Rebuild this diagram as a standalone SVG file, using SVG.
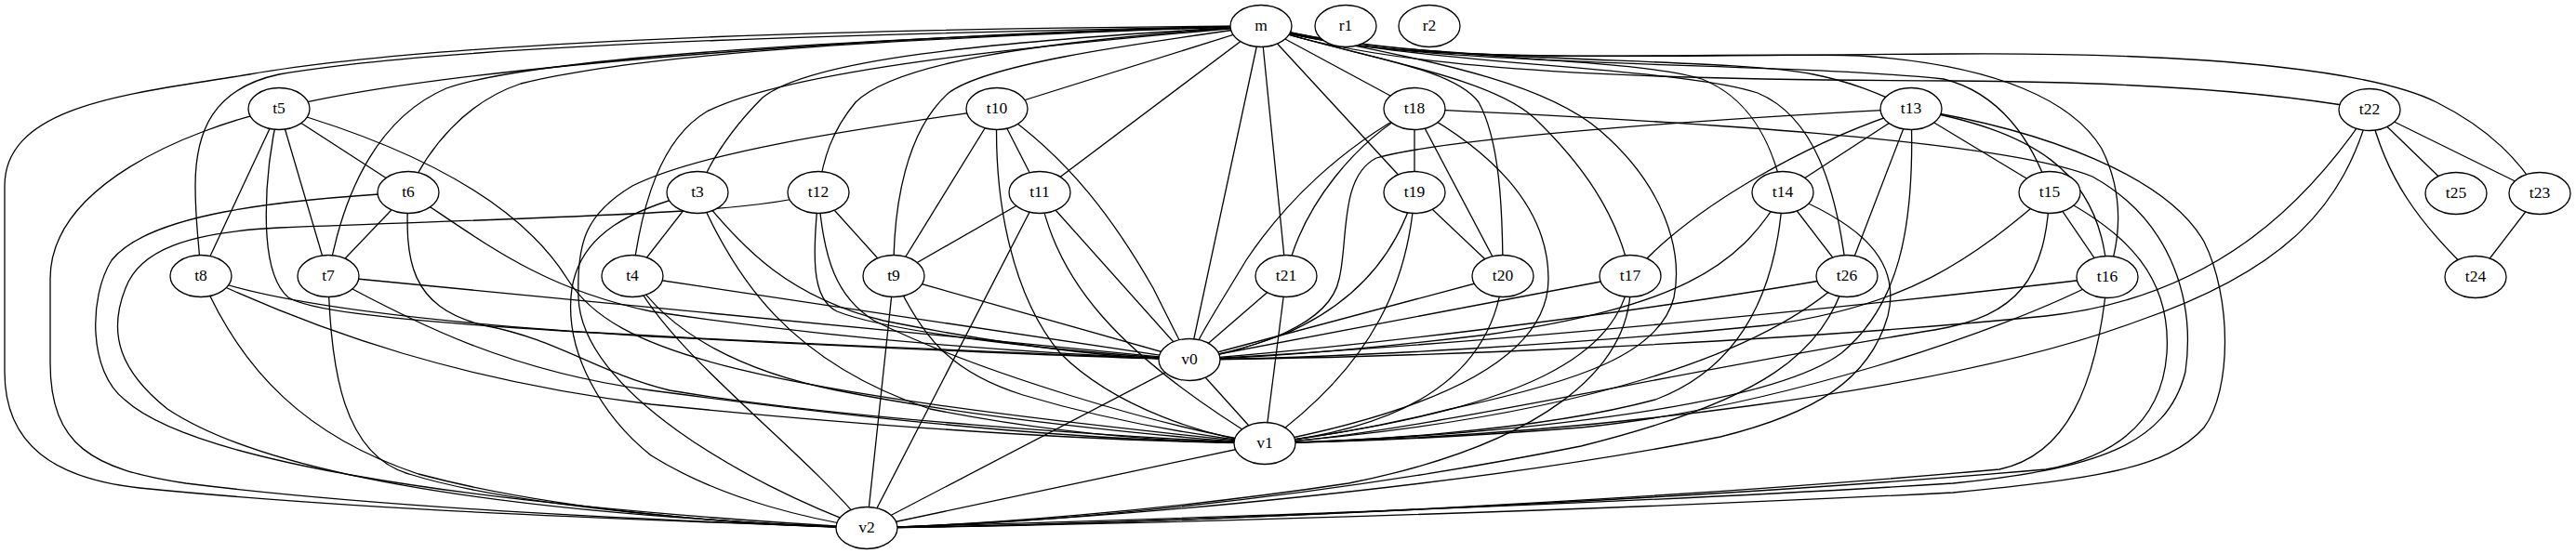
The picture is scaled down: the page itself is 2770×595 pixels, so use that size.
<svg xmlns="http://www.w3.org/2000/svg" width="2770" height="595" viewBox="0 0 2770 595">
<style>
.e{fill:none;stroke:#000;stroke-width:1.3}
.n ellipse{fill:#fff;stroke:#000;stroke-width:1.3}
.n text{font-family:"Liberation Serif","Times New Roman",serif;font-size:17.5px;text-anchor:middle;fill:#000}
</style>
<rect width="2770" height="595" fill="#fff"/>
<g id="edges" class="e">
<!-- m left fan -->
<path d="M1356,28 C1000,30 500,40 268,80 C150,100 5,110 5,200 L5,400 C5,480 60,515 150,525 C400,550 700,560 932,568"/>
<path d="M1356,28 C1000,35 500,45 300,80 C230,95 210,140 210,200 C210,240 214,260 216,297"/>
<path d="M1356,28 C1000,35 480,70 300,117"/>
<path d="M1356,28 C950,40 580,60 480,95 C410,125 370,200 353,297"/>
<path d="M1356,28 C1000,40 700,55 560,90 C500,110 460,160 439,207"/>
<path d="M1356,28 C1050,45 870,65 820,105 C790,135 765,170 750,207"/>
<path d="M1356,28 C1100,50 850,75 760,120 C710,150 690,220 680,297"/>
<path d="M1356,28 C1100,45 960,70 920,110 C895,140 885,170 880,207"/>
<path d="M1356,28 C1200,50 1060,70 1020,100 C975,140 960,220 961,297"/>
<path d="M1356,28 L1072,117"/>
<path d="M1356,28 L1118,207"/>
<path d="M1356,28 L1279,387"/>
<path d="M1356,28 L1383,297"/>
<path d="M1356,28 L1521,207"/>
<path d="M1356,28 L1521,117"/>
<!-- m right fan -->
<path d="M1356,28 C1450,60 1560,70 1590,110 C1612,150 1616,220 1616,297"/>
<path d="M1356,28 C1450,60 1600,80 1650,127 C1700,175 1740,230 1753,297"/>
<path d="M1356,28 C1500,60 1650,80 1720,140 C1790,200 1810,270 1800,320 C1785,380 1700,410 1560,440 C1480,460 1420,470 1360,477"/>
<path d="M1356,28 C1500,65 1750,60 1830,85 C1880,105 1905,150 1917,207"/>
<path d="M1356,28 C1500,70 1800,70 1890,100 C1950,125 1975,200 1986,297"/>
<path d="M1356,28 C1500,70 1850,60 1950,80 C1990,88 2020,100 2055,117"/>
<path d="M1356,28 C1500,75 1900,65 2090,85 C2150,100 2185,150 2204,207"/>
<path d="M1356,28 C1500,75 1800,55 2000,60 C2150,70 2230,110 2260,160 C2285,210 2280,260 2266,298"/>
<path d="M1356,28 C1500,80 1800,86 2100,87 C2300,88 2450,100 2548,118"/>
<path d="M1356,28 C1500,70 1700,60 2100,58 C2400,56 2560,80 2620,110 C2680,140 2710,175 2731,208"/>
<!-- t5 -->
<path d="M300,117 C200,140 54,200 54,300 L54,390 C54,480 100,505 200,520 C400,545 700,560 932,568"/>
<path d="M300,117 L216,297"/>
<path d="M300,117 C285,180 275,290 310,320 C350,345 600,360 1279,387"/>
<path d="M300,117 L353,297"/>
<path d="M300,117 L439,207"/>
<path d="M300,117 C450,160 560,220 610,300 C660,380 800,420 1360,477"/>
<!-- t6 -->
<path d="M439,207 L353,297"/>
<path d="M439,207 C300,215 160,230 120,280 C95,320 95,400 134,430 C200,490 450,540 932,568"/>
<path d="M439,207 C520,260 580,310 700,335 C900,365 1100,380 1279,387"/>
<path d="M439,207 C435,280 440,330 520,350 C600,365 640,400 720,420 C900,450 1200,470 1360,477"/>
<!-- t8 -->
<path d="M216,297 C300,330 500,350 700,362 C900,372 1100,382 1279,387"/>
<path d="M216,297 C350,360 500,410 700,435 C1000,465 1200,475 1360,477"/>
<path d="M216,297 C260,400 330,470 450,510 C600,550 800,565 932,568"/>
<!-- t7 -->
<path d="M353,297 L1279,387"/>
<path d="M353,297 C450,350 550,400 700,420 C1000,460 1200,475 1360,477"/>
<path d="M353,297 C355,400 370,490 440,510 C550,545 800,565 932,568"/>
<!-- t4 -->
<path d="M680,297 L1279,387"/>
<path d="M680,297 C720,360 800,400 900,420 C1050,450 1250,470 1360,477"/>
<path d="M680,297 C720,380 860,480 932,568"/>
<!-- t3 -->
<path d="M750,207 L680,297"/>
<path d="M750,207 C800,270 850,320 950,345 C1100,375 1200,385 1279,387"/>
<path d="M750,207 C790,300 850,390 1000,440 C1150,470 1280,476 1360,477"/>
<path d="M750,207 C680,225 625,250 615,310 C605,380 650,450 700,490 C780,540 880,560 932,568"/>
<!-- t10 -->
<path d="M1072,117 C950,135 760,160 680,200 C630,230 620,260 622,320 C625,420 800,520 932,568"/>
<path d="M1072,117 L961,297"/>
<path d="M1072,117 L1118,207"/>
<path d="M1072,117 C1068,220 1090,320 1140,380 C1200,440 1300,470 1360,477"/>
<path d="M1072,117 C1150,170 1200,240 1240,310 C1260,350 1270,370 1279,387"/>
<!-- t12 -->
<path d="M880,207 C820,230 600,233 300,245 C200,250 150,270 135,310 C115,360 130,400 180,440 C300,520 600,555 932,568"/>
<path d="M880,207 L961,297"/>
<path d="M880,207 C875,270 870,320 900,335 C950,355 1100,375 1279,387"/>
<path d="M880,207 C885,280 900,320 940,345 C1050,400 1250,460 1360,477"/>
<!-- t9 -->
<path d="M961,297 L1279,387"/>
<path d="M961,297 C990,360 1020,400 1100,425 C1200,455 1300,470 1360,477"/>
<path d="M961,297 L932,568"/>
<!-- t11 -->
<path d="M1118,207 L961,297"/>
<path d="M1118,207 L932,568"/>
<path d="M1118,207 C1135,300 1200,380 1360,477"/>
<path d="M1118,207 L1279,387"/>
<!-- t18 -->
<path d="M1521,117 L1521,207"/>
<path d="M1521,117 L1616,297"/>
<path d="M1521,117 C1600,160 1665,220 1665,300 C1665,400 1500,450 1360,477"/>
<path d="M1521,117 C1460,150 1400,220 1383,297"/>
<path d="M1521,117 C1440,160 1380,220 1340,280 C1310,330 1290,360 1279,387"/>
<path d="M1521,117 C1800,130 2150,150 2250,190 C2340,240 2360,330 2350,400 C2330,480 2250,505 2100,520 C1700,545 1200,560 932,568"/>
<!-- t19 -->
<path d="M1521,207 L1616,297"/>
<path d="M1521,207 C1500,280 1450,330 1380,360 C1330,378 1300,385 1279,387"/>
<path d="M1521,207 C1515,300 1480,390 1360,477"/>
<!-- t20 -->
<path d="M1616,297 L1279,387"/>
<path d="M1616,297 C1605,400 1520,460 1360,477"/>
<!-- t21 -->
<path d="M1383,297 L1279,387"/>
<path d="M1383,297 L1360,477"/>
<!-- t17 -->
<path d="M1753,297 L1279,387"/>
<path d="M1753,297 C1740,380 1650,440 1360,477"/>
<path d="M1753,297 C1760,400 1650,480 1450,520 C1250,550 1050,565 932,568"/>
<!-- t13 -->
<path d="M2055,117 C1800,130 1550,150 1480,170 C1440,190 1450,260 1440,300 C1430,350 1350,375 1279,387"/>
<path d="M2055,117 C1950,150 1820,220 1753,297"/>
<path d="M2055,117 L1917,207"/>
<path d="M2055,117 L1986,297"/>
<path d="M2055,117 L2204,207"/>
<path d="M2055,117 C2060,250 2040,330 1980,380 C1900,440 1600,470 1360,477"/>
<path d="M2055,117 C2180,140 2260,180 2266,298"/>
<path d="M2055,117 C2200,140 2330,190 2370,260 C2400,320 2400,420 2370,460 C2330,505 2250,515 2100,530 C1700,550 1200,565 932,568"/>
<!-- t14 -->
<path d="M1917,207 L1986,297"/>
<path d="M1917,207 C1870,290 1800,330 1600,360 C1450,378 1350,385 1279,387"/>
<path d="M1917,207 C1910,330 1860,400 1780,430 C1650,465 1450,475 1360,477"/>
<path d="M1917,207 C2000,240 2045,280 2030,340 C2010,410 1950,445 1850,470 C1600,520 1200,560 932,568"/>
<!-- t26 -->
<path d="M1986,297 C1800,330 1500,370 1279,387"/>
<path d="M1986,297 C1900,380 1700,450 1360,477"/>
<path d="M1986,297 C1960,380 1900,430 1700,480 C1400,540 1100,565 932,568"/>
<!-- t15 -->
<path d="M2204,207 L2266,298"/>
<path d="M2204,207 C2120,280 2050,330 1900,350 C1700,370 1450,385 1279,387"/>
<path d="M2204,207 C2200,300 2170,340 2080,355 C1800,400 1500,470 1360,477"/>
<path d="M2204,207 C2290,250 2335,300 2330,380 C2325,450 2280,490 2200,505 C1800,540 1200,565 932,568"/>
<!-- t16 -->
<path d="M2266,298 C2000,330 1600,370 1279,387"/>
<path d="M2266,298 C2150,360 1900,440 1700,460 C1550,472 1420,476 1360,477"/>
<path d="M2266,298 C2255,420 2220,490 2150,505 C1700,545 1200,565 932,568"/>
<!-- t22 -->
<path d="M2548,118 L2641,208"/>
<path d="M2548,118 L2731,208"/>
<path d="M2548,118 C2565,190 2600,240 2662,298"/>
<path d="M2731,208 L2662,298"/>
<path d="M2548,118 C2480,220 2380,320 2200,340 C1900,370 1500,385 1279,387"/>
<path d="M2548,118 C2520,220 2460,290 2300,345 C2100,420 1700,470 1360,477"/>
<!-- v -->
<path d="M1279,387 L1360,477"/>
<path d="M1279,387 L932,568"/>
<path d="M1360,477 L932,568"/>
</g>
<g id="m" class="n"><ellipse cx="1356" cy="28" rx="33" ry="22.5"/><text x="1356" y="33">m</text></g>
<g id="r1" class="n"><ellipse cx="1447" cy="28" rx="33" ry="22.5"/><text x="1447" y="33">r1</text></g>
<g id="r2" class="n"><ellipse cx="1537" cy="28" rx="33" ry="22.5"/><text x="1537" y="33">r2</text></g>
<g id="t5" class="n"><ellipse cx="300" cy="117" rx="33" ry="22.5"/><text x="300" y="122">t5</text></g>
<g id="t10" class="n"><ellipse cx="1072" cy="117" rx="33" ry="22.5"/><text x="1072" y="122">t10</text></g>
<g id="t18" class="n"><ellipse cx="1521" cy="117" rx="33" ry="22.5"/><text x="1521" y="122">t18</text></g>
<g id="t13" class="n"><ellipse cx="2055" cy="117" rx="33" ry="22.5"/><text x="2055" y="122">t13</text></g>
<g id="t22" class="n"><ellipse cx="2548" cy="118" rx="33" ry="22.5"/><text x="2548" y="123">t22</text></g>
<g id="t6" class="n"><ellipse cx="439" cy="207" rx="33" ry="22.5"/><text x="439" y="212">t6</text></g>
<g id="t3" class="n"><ellipse cx="750" cy="207" rx="33" ry="22.5"/><text x="750" y="212">t3</text></g>
<g id="t12" class="n"><ellipse cx="880" cy="207" rx="33" ry="22.5"/><text x="880" y="212">t12</text></g>
<g id="t11" class="n"><ellipse cx="1118" cy="207" rx="33" ry="22.5"/><text x="1118" y="212">t11</text></g>
<g id="t19" class="n"><ellipse cx="1521" cy="207" rx="33" ry="22.5"/><text x="1521" y="212">t19</text></g>
<g id="t14" class="n"><ellipse cx="1917" cy="207" rx="33" ry="22.5"/><text x="1917" y="212">t14</text></g>
<g id="t15" class="n"><ellipse cx="2204" cy="207" rx="33" ry="22.5"/><text x="2204" y="212">t15</text></g>
<g id="t25" class="n"><ellipse cx="2641" cy="208" rx="33" ry="22.5"/><text x="2641" y="213">t25</text></g>
<g id="t23" class="n"><ellipse cx="2731" cy="208" rx="33" ry="22.5"/><text x="2731" y="213">t23</text></g>
<g id="t8" class="n"><ellipse cx="216" cy="297" rx="33" ry="22.5"/><text x="216" y="302">t8</text></g>
<g id="t7" class="n"><ellipse cx="353" cy="297" rx="33" ry="22.5"/><text x="353" y="302">t7</text></g>
<g id="t4" class="n"><ellipse cx="680" cy="297" rx="33" ry="22.5"/><text x="680" y="302">t4</text></g>
<g id="t9" class="n"><ellipse cx="961" cy="297" rx="33" ry="22.5"/><text x="961" y="302">t9</text></g>
<g id="t21" class="n"><ellipse cx="1383" cy="297" rx="33" ry="22.5"/><text x="1383" y="302">t21</text></g>
<g id="t20" class="n"><ellipse cx="1616" cy="297" rx="33" ry="22.5"/><text x="1616" y="302">t20</text></g>
<g id="t17" class="n"><ellipse cx="1753" cy="297" rx="33" ry="22.5"/><text x="1753" y="302">t17</text></g>
<g id="t26" class="n"><ellipse cx="1986" cy="297" rx="33" ry="22.5"/><text x="1986" y="302">t26</text></g>
<g id="t16" class="n"><ellipse cx="2266" cy="298" rx="33" ry="22.5"/><text x="2266" y="303">t16</text></g>
<g id="t24" class="n"><ellipse cx="2662" cy="298" rx="33" ry="22.5"/><text x="2662" y="303">t24</text></g>
<g id="v0" class="n"><ellipse cx="1279" cy="387" rx="33" ry="22.5"/><text x="1279" y="392">v0</text></g>
<g id="v1" class="n"><ellipse cx="1360" cy="477" rx="33" ry="22.5"/><text x="1360" y="482">v1</text></g>
<g id="v2" class="n"><ellipse cx="932" cy="568" rx="33" ry="22.5"/><text x="932" y="573">v2</text></g>
</svg>
